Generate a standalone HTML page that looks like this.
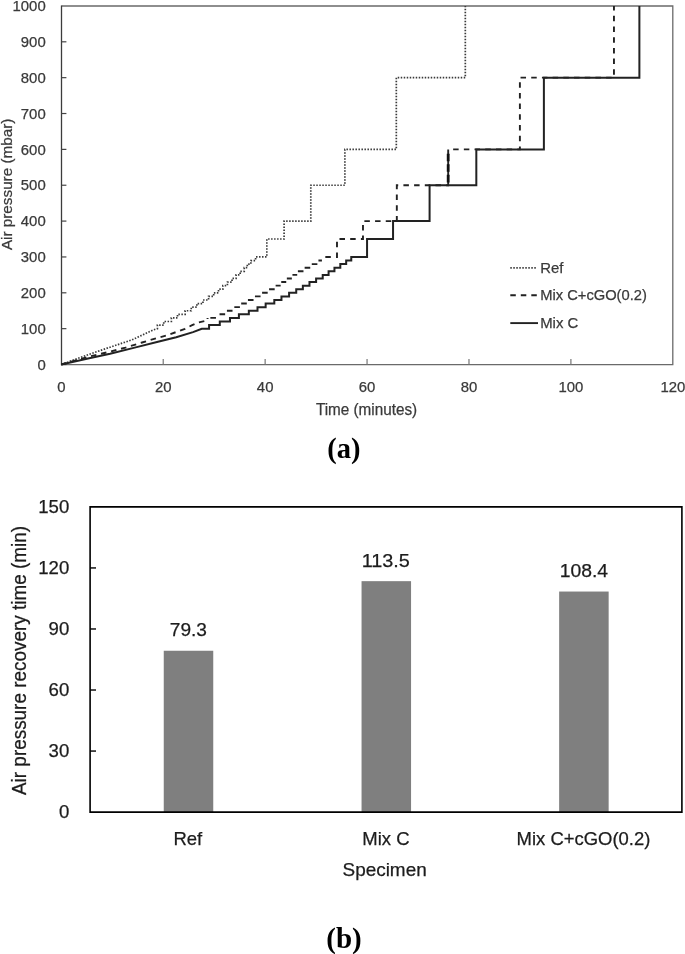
<!DOCTYPE html><html><head><meta charset="utf-8"><style>html,body{margin:0;padding:0;background:#fff;}svg{display:block;will-change:transform;}text{font-family:"Liberation Sans",sans-serif;}.s{font-family:"Liberation Serif",serif;font-weight:bold;}.ta{fill:#3a3a3a;stroke:#3a3a3a;stroke-width:0.25px;}.tb{fill:#1c1c1c;stroke:#1c1c1c;stroke-width:0.25px;}</style></head><body>
<svg width="685" height="954" viewBox="0 0 685 954">
<rect x="0" y="0" width="685" height="954" fill="#fff"/>
<path d="M61.5 6H672.8V364.6H61.5" fill="none" stroke="#6a6a6a" stroke-width="1.3"/>
<path d="M61.5 5.4V365.2" fill="none" stroke="#3c3c3c" stroke-width="1.3"/>
<path d="M61.5 364.52H66.4" stroke="#444" stroke-width="1.2"/>
<path d="M61.5 328.66H66.4" stroke="#444" stroke-width="1.2"/>
<path d="M61.5 292.81H66.4" stroke="#444" stroke-width="1.2"/>
<path d="M61.5 256.95H66.4" stroke="#444" stroke-width="1.2"/>
<path d="M61.5 221.09H66.4" stroke="#444" stroke-width="1.2"/>
<path d="M61.5 185.23H66.4" stroke="#444" stroke-width="1.2"/>
<path d="M61.5 149.38H66.4" stroke="#444" stroke-width="1.2"/>
<path d="M61.5 113.52H66.4" stroke="#444" stroke-width="1.2"/>
<path d="M61.5 77.66H66.4" stroke="#444" stroke-width="1.2"/>
<path d="M61.5 41.81H66.4" stroke="#444" stroke-width="1.2"/>
<path d="M163.22 364.6V359" stroke="#777" stroke-width="1.2"/>
<path d="M265.14 364.6V359" stroke="#777" stroke-width="1.2"/>
<path d="M367.06 364.6V359" stroke="#777" stroke-width="1.2"/>
<path d="M468.98 364.6V359" stroke="#777" stroke-width="1.2"/>
<path d="M570.90 364.6V359" stroke="#777" stroke-width="1.2"/>
<text x="45.70" y="369.72" class="ta" font-size="14.9" text-anchor="end">0</text>
<text x="45.70" y="333.86" class="ta" font-size="14.9" text-anchor="end">100</text>
<text x="45.70" y="298.01" class="ta" font-size="14.9" text-anchor="end">200</text>
<text x="45.70" y="262.15" class="ta" font-size="14.9" text-anchor="end">300</text>
<text x="45.70" y="226.29" class="ta" font-size="14.9" text-anchor="end">400</text>
<text x="45.70" y="190.43" class="ta" font-size="14.9" text-anchor="end">500</text>
<text x="45.70" y="154.58" class="ta" font-size="14.9" text-anchor="end">600</text>
<text x="45.70" y="118.72" class="ta" font-size="14.9" text-anchor="end">700</text>
<text x="45.70" y="82.86" class="ta" font-size="14.9" text-anchor="end">800</text>
<text x="45.70" y="47.01" class="ta" font-size="14.9" text-anchor="end">900</text>
<text x="45.70" y="11.15" class="ta" font-size="14.9" text-anchor="end">1000</text>
<text x="61.30" y="391.60" class="ta" font-size="14.9" text-anchor="middle">0</text>
<text x="163.22" y="391.60" class="ta" font-size="14.9" text-anchor="middle">20</text>
<text x="265.14" y="391.60" class="ta" font-size="14.9" text-anchor="middle">40</text>
<text x="367.06" y="391.60" class="ta" font-size="14.9" text-anchor="middle">60</text>
<text x="468.98" y="391.60" class="ta" font-size="14.9" text-anchor="middle">80</text>
<text x="570.90" y="391.60" class="ta" font-size="14.9" text-anchor="middle">100</text>
<text x="672.82" y="391.60" class="ta" font-size="14.9" text-anchor="middle">120</text>
<text x="315.90" y="414.70" class="ta" font-size="15.6" textLength="101.3" lengthAdjust="spacingAndGlyphs">Time (minutes)</text>
<text transform="translate(12.4 250.1) rotate(-90)" x="0" y="0" class="ta" font-size="15" textLength="131.5" lengthAdjust="spacingAndGlyphs">Air pressure (mbar)</text>
<path d="M510.3 267.8H536.5" stroke="#3a3a3a" stroke-width="1.7" stroke-dasharray="1.5 1.5"/>
<path d="M510.3 295.3H537.8" stroke="#222" stroke-width="1.9" stroke-dasharray="5.5 5"/>
<path d="M510.3 323.1H538" stroke="#222" stroke-width="1.9"/>
<text x="540.20" y="272.70" class="ta" font-size="14.9">Ref</text>
<text x="540.20" y="300.30" class="ta" font-size="14.9" textLength="106.7" lengthAdjust="spacingAndGlyphs">Mix C+cGO(0.2)</text>
<text x="540.20" y="328.30" class="ta" font-size="14.9">Mix C</text>
<path d="M61.30 364.52 L89.18 354.30 L110.07 347.20 L131.88 339.89 L153.79 329.74 L157.41 328.66 L157.41 328.66 L157.41 325.08 L163.73 325.08 L163.73 321.49 L171.37 321.49 L171.37 317.91 L177.49 317.91 L177.49 314.32 L185.13 314.32 L185.13 310.73 L191.25 310.73 L191.25 307.15 L196.85 307.15 L196.85 303.56 L202.97 303.56 L202.97 299.98 L208.57 299.98 L208.57 296.39 L213.67 296.39 L213.67 292.81 L218.51 292.81 L218.51 289.22 L222.84 289.22 L222.84 285.63 L227.43 285.63 L227.43 282.05 L232.02 282.05 L232.02 278.46 L236.09 278.46 L236.09 274.88 L240.17 274.88 L240.17 271.29 L244.25 271.29 L244.25 267.71 L247.30 267.71 L247.30 264.12 L250.87 264.12 L250.87 260.53 L255.61 260.53 L255.61 256.95 L266.82 256.95 L266.82 239.02 L284.10 239.02 L284.10 221.09 L310.80 221.09 L310.80 185.23 L344.89 185.23 L344.89 149.38 L396.31 149.38 L396.31 77.66 L465.31 77.66 L465.31 5.95" fill="none" stroke="#3a3a3a" stroke-width="1.7" stroke-dasharray="1.5 1.5"/>
<path d="M61.30 364.52 L89.18 356.49 L110.07 351.61 L125.51 347.60 L142.12 342.50 L157.97 337.77 L167.50 335.19 L176.21 332.03 L184.98 328.81 L191.60 325.44 L198.89 322.32 L207.56 320.42 L207.56 317.91" fill="none" stroke="#222" stroke-width="1.9" stroke-dasharray="5.5 4.8"/>
<path d="M210.36 317.91H215.96M219.53 314.32H225.13M226.92 310.73H232.52M234.31 307.15H239.91M241.19 303.56H246.79M247.94 299.98H253.54M254.95 296.39H260.55M262.09 292.81H267.69M269.09 289.22H274.69M275.63 285.63H280.64M281.24 282.05H286.24M286.84 278.46H291.85M292.45 274.88H297.20M297.88 271.29H303.48M304.64 267.71H310.24M311.77 264.12H317.37M318.44 260.53H321.92" fill="none" stroke="#222" stroke-width="1.9"/>
<path d="M322.22 256.95 L336.99 256.95 L336.99 239.02 L362.98 239.02 L362.98 221.09 L396.82 221.09 L396.82 185.23 L448.19 185.23 L448.19 149.38 L519.89 149.38 L519.89 77.66 L613.96 77.66 L613.96 5.95" fill="none" stroke="#222" stroke-width="1.9" stroke-dasharray="5.5 5.2" stroke-dashoffset="7.6"/>
<path d="M448.19 182.43V150.88" stroke="#111" stroke-width="2.8" stroke-dasharray="7.6 3"/>
<path d="M61.30 364.52 L89.18 358.32 L110.07 353.80 L134.68 347.60 L157.97 341.75 L176.21 337.20 L193.03 332.11 L201.80 328.81 L203.48 328.66 L209.08 328.66 L209.08 325.08 L219.79 325.08 L219.79 321.49 L229.98 321.49 L229.98 317.91 L238.90 317.91 L238.90 314.32 L248.83 314.32 L248.83 310.73 L257.50 310.73 L257.50 307.15 L265.65 307.15 L265.65 303.56 L274.31 303.56 L274.31 299.98 L281.45 299.98 L281.45 296.39 L289.09 296.39 L289.09 292.81 L296.23 292.81 L296.23 289.22 L302.85 289.22 L302.85 285.63 L309.48 285.63 L309.48 282.05 L316.10 282.05 L316.10 278.46 L322.72 278.46 L322.72 274.88 L328.59 274.88 L328.59 271.29 L334.45 271.29 L334.45 267.71 L340.31 267.71 L340.31 264.12 L346.17 264.12 L346.17 260.53 L351.26 260.53 L351.26 256.95 L367.06 256.95 L367.06 239.02 L393.05 239.02 L393.05 221.09 L429.59 221.09 L429.59 185.23 L476.32 185.23 L476.32 149.38 L543.89 149.38 L543.89 77.66 L639.39 77.66 L639.39 5.95" fill="none" stroke="#222" stroke-width="2"/>
<text x="327.3" y="457.7" class="s" font-size="28.5" fill="#000">(a)</text>
<rect x="163.75" y="650.75" width="49.5" height="161.35" fill="#7f7f7f"/>
<rect x="361.55" y="581.16" width="49.5" height="230.94" fill="#7f7f7f"/>
<rect x="559.15" y="591.54" width="49.5" height="220.56" fill="#7f7f7f"/>
<path d="M90.1 506.9H681.9V812.1H90.1Z" fill="none" stroke="#000" stroke-width="1.6"/>
<text x="69.30" y="818.00" class="tb" font-size="18.6" text-anchor="end">0</text>
<path d="M90.1 751.06H96" stroke="#000" stroke-width="1.4"/>
<text x="69.30" y="756.96" class="tb" font-size="18.6" text-anchor="end">30</text>
<path d="M90.1 690.02H96" stroke="#000" stroke-width="1.4"/>
<text x="69.30" y="695.92" class="tb" font-size="18.6" text-anchor="end">60</text>
<path d="M90.1 628.98H96" stroke="#000" stroke-width="1.4"/>
<text x="69.30" y="634.88" class="tb" font-size="18.6" text-anchor="end">90</text>
<path d="M90.1 567.94H96" stroke="#000" stroke-width="1.4"/>
<text x="69.30" y="573.84" class="tb" font-size="18.6" text-anchor="end">120</text>
<text x="69.30" y="512.80" class="tb" font-size="18.6" text-anchor="end">150</text>
<text x="169.80" y="635.55" class="tb" font-size="18.6" textLength="37.2" lengthAdjust="spacingAndGlyphs">79.3</text>
<text x="361.70" y="566.96" class="tb" font-size="18.6" textLength="48.2" lengthAdjust="spacingAndGlyphs">113.5</text>
<text x="559.70" y="576.74" class="tb" font-size="18.6" textLength="48.4" lengthAdjust="spacingAndGlyphs">108.4</text>
<text x="173.40" y="845.30" class="tb" font-size="18.6" textLength="28.8" lengthAdjust="spacingAndGlyphs">Ref</text>
<text x="362.30" y="845.30" class="tb" font-size="18.6" textLength="47.2" lengthAdjust="spacingAndGlyphs">Mix C</text>
<text x="516.60" y="845.30" class="tb" font-size="18.6" textLength="133.8" lengthAdjust="spacingAndGlyphs">Mix C+cGO(0.2)</text>
<text x="342.50" y="875.80" class="tb" font-size="18.6" textLength="84.2" lengthAdjust="spacingAndGlyphs">Specimen</text>
<text transform="translate(25.9 795) rotate(-90)" x="0" y="0" class="tb" font-size="19.6" textLength="269" lengthAdjust="spacingAndGlyphs">Air pressure recovery time (min)</text>
<text x="326.3" y="948.3" class="s" font-size="29" fill="#000">(b)</text>
</svg></body></html>
